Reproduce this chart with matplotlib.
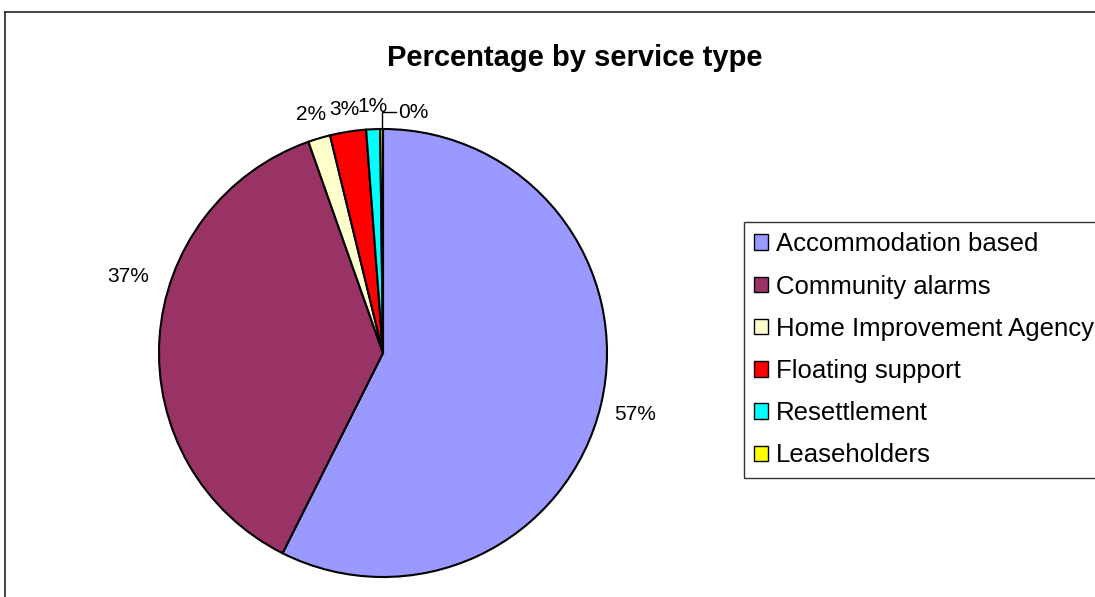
import numpy as np
import matplotlib
matplotlib.use('Agg')
import matplotlib.pyplot as plt
from matplotlib.lines import Line2D
from matplotlib.patches import Patch

plt.rcParams['font.family'] = ['Liberation Sans', 'DejaVu Sans']

services = ['Accommodation based', 'Community alarms', 'Home Improvement Agency',
            'Floating support', 'Resettlement', 'Leaseholders']
shares = [57.4, 37.2, 1.6, 2.6, 1.0, 0.2]
colours = ['#9999FF', '#993366', '#FFFFCC', '#FF0000', '#00FFFF', '#FFFF00']

fig = plt.figure(figsize=(10.95, 5.97), dpi=100)

# chart area border (runs off the right and bottom edges)
fig.add_artist(Line2D([5 / 1095, 5 / 1095], [1 - 12 / 597, -0.1], color='#222222', lw=1.2))
fig.add_artist(Line2D([5 / 1095, 1.1], [1 - 12 / 597, 1 - 12 / 597], color='#222222', lw=1.2))

fig.text(0.525, 1 - 58 / 597, 'Percentage by service type', ha='center', va='center',
         fontsize=21, fontweight='bold')

ax = fig.add_axes([159 / 1095, (597 - 353 - 224) / 597, 448 / 1095, 448 / 597])
wedges, _ = ax.pie(shares, colors=colours, startangle=90, counterclock=False,
                   wedgeprops=dict(edgecolor='black', linewidth=1.5))
ax.set_xlim(-1, 1)
ax.set_ylim(-1, 1)
ax.set_aspect('equal')
ax.axis('off')

# percentage labels around the pie
dist = [1.155, 1.19, 1.12, 1.11, 1.11, None]
shift = [0, -13.6, 0, 0, 0, 0]
for w, v, d, s in zip(wedges, shares, dist, shift):
    mid = np.deg2rad((w.theta1 + w.theta2) / 2 + s)
    txt = '%d%%' % round(v)
    if d is None:
        # leader line for the tiny slice
        x0, y0 = np.cos(mid), np.sin(mid)
        ax.plot([x0, x0, x0 + 0.065], [y0, y0 + 0.075, y0 + 0.075], color='black', lw=1, clip_on=False)
        ax.text(x0 + 0.075, y0 + 0.075, txt, ha='left', va='center', fontsize=15)
    else:
        ax.text(d * np.cos(mid), d * np.sin(mid) - 0.01, txt, ha='center', va='center', fontsize=15)

handles = [Patch(facecolor=c, edgecolor='black', linewidth=1) for c in colours]
leg = fig.legend(handles, services, loc='upper left', bbox_to_anchor=(744 / 1095, 1 - 222 / 597),
                 fontsize=18.5, frameon=True, fancybox=False, edgecolor='black',
                 handlelength=0.55, handleheight=0.55, handletextpad=0.3,
                 labelspacing=0.71, borderpad=0.4, borderaxespad=0)
leg.get_frame().set_linewidth(1)

fig.savefig('out.png', dpi=100)
